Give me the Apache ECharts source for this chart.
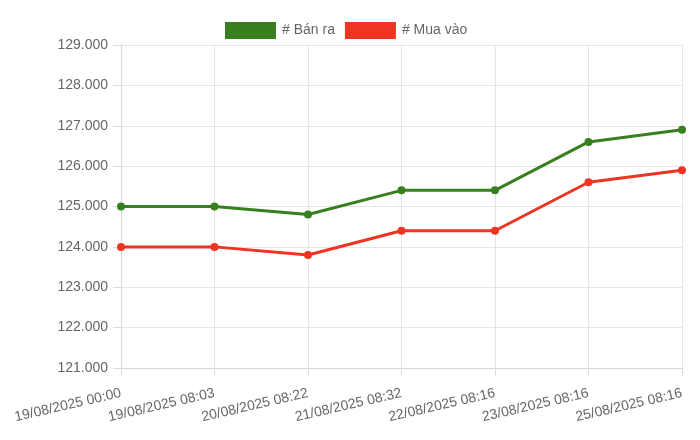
<!DOCTYPE html>
<html>
<head>
<meta charset="utf-8">
<script src="https://cdn.jsdelivr.net/npm/echarts@6/dist/echarts.min.js"></script>
<style>
html,body{margin:0;padding:0;background:#fff;}
#chart{width:700px;height:440px;}
</style>
</head>
<body>
<div id="chart"></div>
<script>
const categories = ["19/08/2025 00:00","19/08/2025 08:03","20/08/2025 08:22","21/08/2025 08:32","22/08/2025 08:16","23/08/2025 08:16","25/08/2025 08:16"];
const banRa = [125000,125000,124800,125400,125400,126600,126900];
const muaVao = [124000,124000,123800,124400,124400,125600,125900];
const seriesNames = ["# Bán ra","# Mua vào"];

const fmt = v => String(Math.round(v)).replace(/\B(?=(\d{3})+(?!\d))/g, ".");
const font = "'Liberation Sans', Arial, Helvetica, sans-serif";
const chart = echarts.init(document.getElementById('chart'), null, {renderer:'canvas'});
chart.setOption({
  animation:false,
  color:['#38801f','#ee3524'],
  legend:{
    top:17, left:220,
    itemWidth:51, itemHeight:17, itemGap:10,
    icon:'rect',
    textStyle:{color:'#666', fontSize:14, fontFamily:font, padding:[0,0,0,1]},
    data:seriesNames
  },
  grid:{left:121, right:18, top:45, bottom:72},
  xAxis:{
    type:'category', boundaryGap:false, data:categories,
    axisLine:{lineStyle:{color:'#d6d6d6'}},
    axisTick:{show:true, length:8, alignWithLabel:true, lineStyle:{color:'#dcdcdc'}},
    axisLabel:{rotate:13, color:'#666', fontSize:14, fontFamily:font, margin:25, interval:0},
    splitLine:{show:true, lineStyle:{color:'#e6e6e6'}}
  },
  yAxis:{
    type:'value', min:121000, max:129000, interval:1000,
    axisLine:{show:true, lineStyle:{color:'#d6d6d6'}},
    axisTick:{show:true, length:8, lineStyle:{color:'#dcdcdc'}},
    axisLabel:{color:'#666', fontSize:14, fontFamily:font, margin:13, formatter:fmt},
    splitLine:{show:true, lineStyle:{color:'#e6e6e6'}}
  },
  series:[
    {name:seriesNames[0], type:'line', data:banRa, symbol:'circle', symbolSize:8,
     lineStyle:{width:3, color:'#38801f'}, itemStyle:{color:'#38801f'}},
    {name:seriesNames[1], type:'line', data:muaVao, symbol:'circle', symbolSize:8,
     lineStyle:{width:3, color:'#ee3524'}, itemStyle:{color:'#ee3524'}}
  ]
});
</script>
</body>
</html>
